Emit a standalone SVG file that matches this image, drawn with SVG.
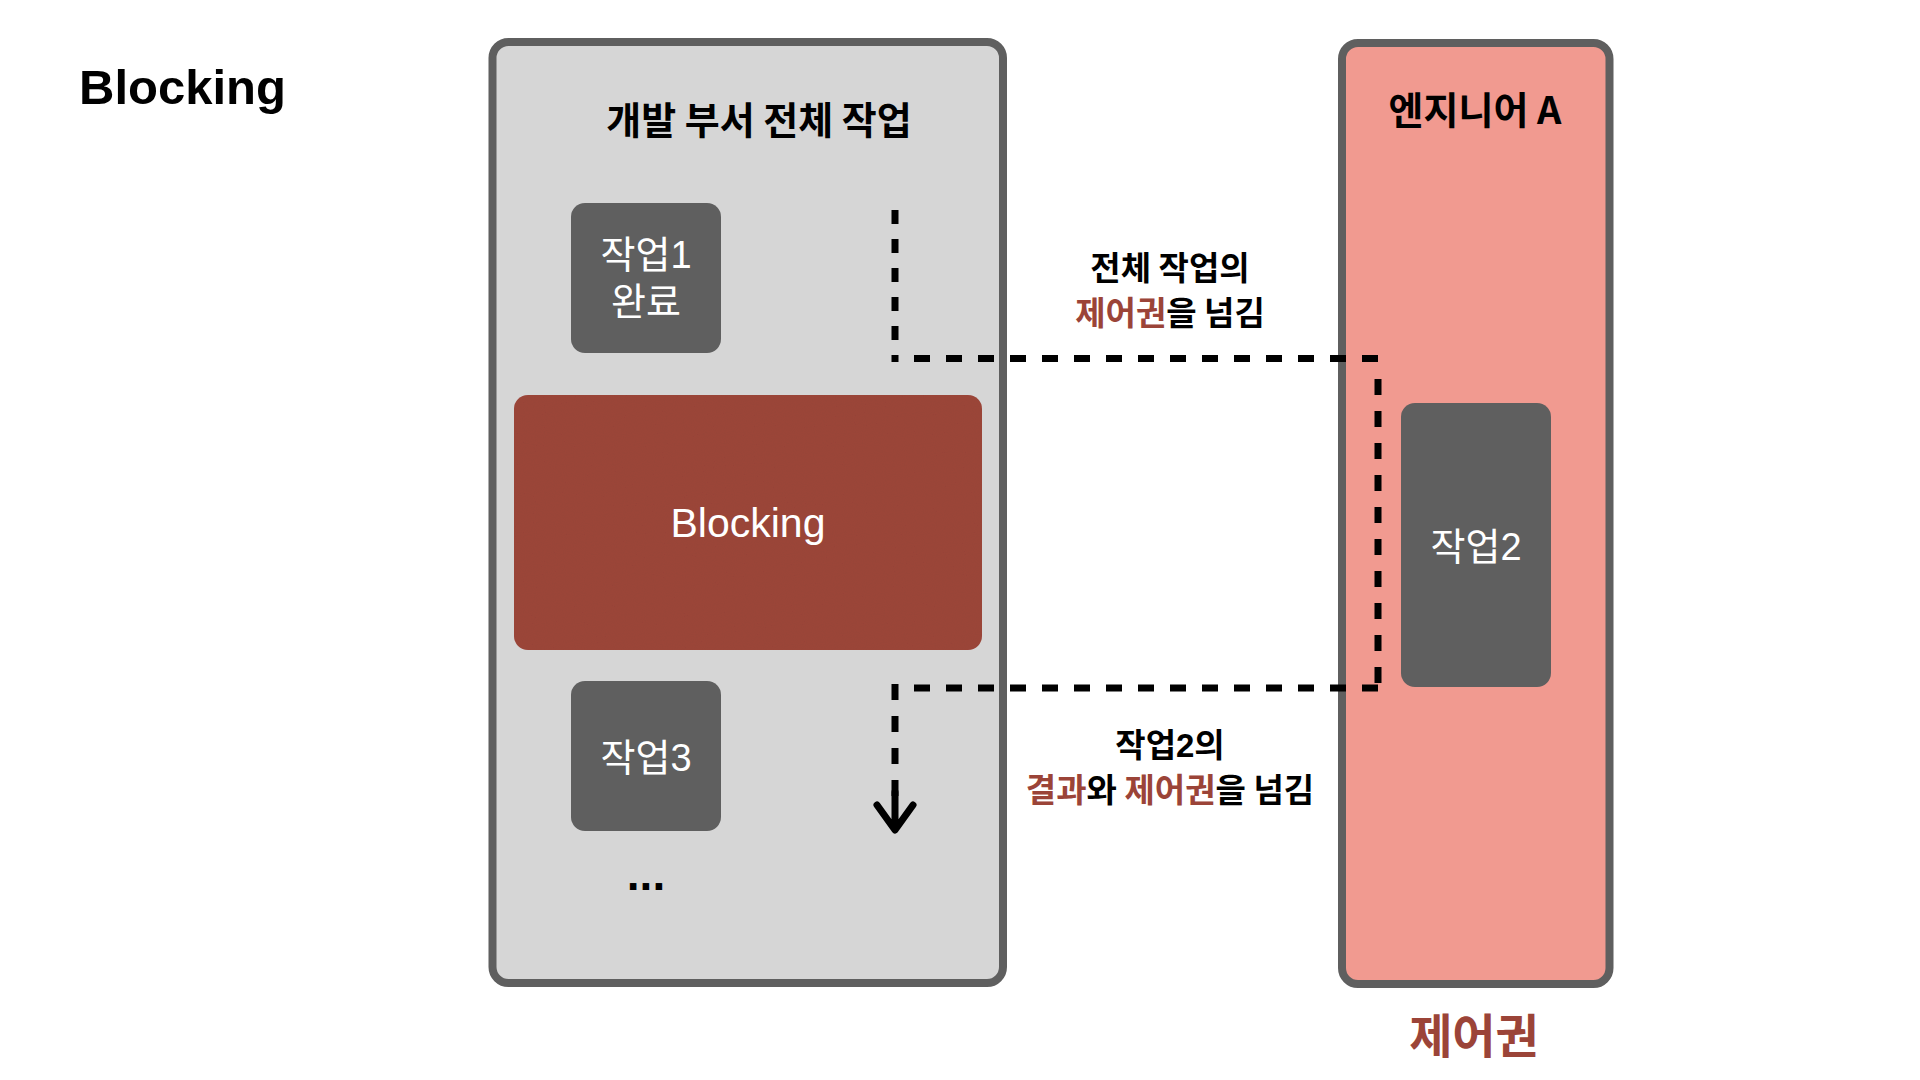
<svg xmlns="http://www.w3.org/2000/svg" width="1920" height="1080" viewBox="0 0 1920 1080">
<style>
.kr{font-family:"Noto Sans CJK KR","Liberation Sans",sans-serif}
.mix{font-family:"Liberation Sans","Noto Sans CJK KR",sans-serif}
.b{font-weight:bold}
.red{fill:#9b4438}
.dash{fill:none;stroke:#000;stroke-width:7;stroke-dasharray:16 16}
.task{fill:#5f5f5f}
.wt{fill:#fff;font-size:38px;text-anchor:middle}
.lbl{font-size:33px;font-weight:bold;text-anchor:middle;fill:#000}
</style>
<defs>
<filter id="paper" x="0" y="0" width="1" height="1">
<feTurbulence type="fractalNoise" baseFrequency="0.9" numOctaves="2" seed="3" result="n"/>
<feColorMatrix in="n" type="matrix" values="0 0 0 0 0  0 0 0 0 0  0 0 0 0 0  0 0 0 0.08 0" result="a"/>
<feComposite in="a" in2="SourceGraphic" operator="in" result="t"/>
<feMerge><feMergeNode in="SourceGraphic"/><feMergeNode in="t"/></feMerge>
</filter>
</defs>
<rect width="1920" height="1080" fill="#fff"/>
<text x="79" y="104" class="mix b" font-size="49" fill="#000">Blocking</text>

<g id="dev-dept">
<rect x="492.5" y="42" width="510.5" height="941" rx="16" fill="#d6d6d6" stroke="#5f5f5f" stroke-width="8"/>
<text x="759" y="134" class="kr b" font-size="38" text-anchor="middle" fill="#000">개발 부서 전체 작업</text>
</g>
<g id="task1">
<rect x="571" y="203" width="150" height="150" rx="14" class="task"/>
<text x="646" y="268" class="mix wt">작업1</text>
<text x="646" y="315" class="mix wt">완료</text>
</g>
<g id="blocking">
<rect x="514" y="395" width="468" height="255" rx="14" fill="#9d463b" filter="url(#paper)"/>
<text x="748" y="537" class="mix" font-size="41" fill="#fff" text-anchor="middle">Blocking</text>
</g>
<g id="task3">
<rect x="571" y="681" width="150" height="150" rx="14" class="task"/>
<text x="646" y="771" class="mix wt">작업3</text>
</g>
<g id="more">
<text x="646" y="890" class="mix b" font-size="46" text-anchor="middle" fill="#000">...</text>
</g>

<g id="engineer-a">
<rect x="1342" y="43" width="267.5" height="941" rx="16" fill="#f19a90" stroke="#5f5f5f" stroke-width="8"/>
<text x="1475" y="124" class="kr b" font-size="38" text-anchor="middle" fill="#000">엔지니어 A</text>
</g>
<g id="task2">
<rect x="1401" y="403" width="150" height="284" rx="14" class="task"/>
<text x="1476" y="560" class="mix wt">작업2</text>
</g>
<g id="control-label">
<text x="1474" y="1053" class="kr b red" font-size="47" text-anchor="middle">제어권</text>
</g>

<g id="connectors">
<path class="dash" d="M895,210 V362" style="stroke-dasharray:14 15"/>
<path class="dash" d="M914,358.5 H1378"/>
<path class="dash" d="M1378,379 V683"/>
<path class="dash" d="M1378,688 H914"/>
<path class="dash" d="M895,684 V796"/>
<path d="M895,792 V829 M877,805 L895,830 L913,805" fill="none" stroke="#000" stroke-width="7" stroke-linecap="round" stroke-linejoin="round"/>
</g>

<g id="labels">
<text x="1170" y="280" class="kr lbl">전체 작업의</text>
<text x="1170" y="325" class="kr lbl"><tspan class="red">제어권</tspan>을 넘김</text>
<text x="1170" y="757" class="mix lbl">작업2의</text>
<text x="1170" y="802" class="kr lbl"><tspan class="red">결과</tspan>와 <tspan class="red">제어권</tspan>을 넘김</text>
</g>
</svg>
